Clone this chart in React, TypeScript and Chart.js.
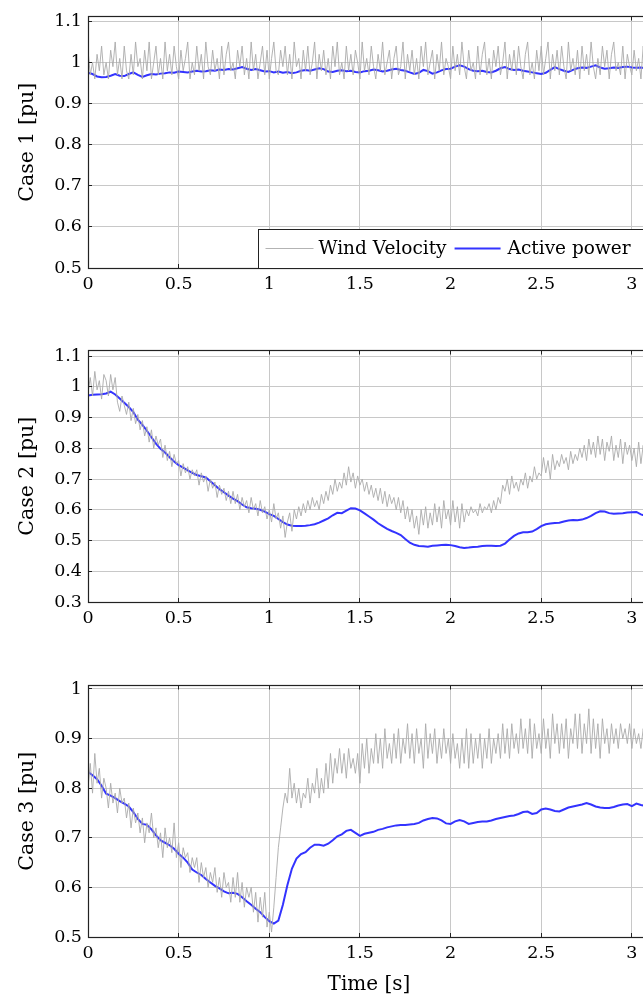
import React, { useEffect, useRef } from "react";
import { Chart, registerables } from "chart.js";

Chart.register(...registerables);

// ---------- data ----------
const WIND_DT = 0.0125; // s between wind samples
const POWER_DT = 0.025; // s between active-power samples

const X_TICKS = [0, 0.5, 1, 1.5, 2, 2.5, 3];
const X_TICK_LABELS = ["0", "0.5", "1", "1.5", "2", "2.5", "3"];

const Y_TICKS_1 = [0.5, 0.6, 0.7, 0.8, 0.9, 1.0, 1.1];
const Y_TICK_LABELS_1 = ["0.5", "0.6", "0.7", "0.8", "0.9", "1", "1.1"];
const Y_TICKS_2 = [0.3, 0.4, 0.5, 0.6, 0.7, 0.8, 0.9, 1.0, 1.1];
const Y_TICK_LABELS_2 = ["0.3", "0.4", "0.5", "0.6", "0.7", "0.8", "0.9", "1", "1.1"];
const Y_TICKS_3 = [0.5, 0.6, 0.7, 0.8, 0.9, 1.0];
const Y_TICK_LABELS_3 = ["0.5", "0.6", "0.7", "0.8", "0.9", "1"];

const Y_TITLES = ["Case 1 [pu]", "Case 2 [pu]", "Case 3 [pu]"];
const X_TITLE = "Time [s]";
const SERIES_NAMES = ["Wind Velocity", "Active power"];

const WIND_1 = [
  1.03, 0.97, 1.0, 0.96, 1.02, 0.98, 1.04, 0.97,
  1.0, 0.96, 1.03, 0.99, 1.05, 0.97, 1.01, 0.96,
  1.04, 0.98, 0.96, 1.02, 0.97, 1.05, 0.99, 1.01,
  0.96, 1.03, 0.98, 1.05, 0.96, 1.0, 1.04, 0.97,
  1.01, 0.96, 1.05, 0.98, 1.02, 0.97, 1.04, 0.99,
  0.96, 1.03, 0.98, 1.01, 1.05, 0.96, 1.0, 0.97,
  1.04, 0.98, 1.02, 0.96, 1.05, 0.99, 0.97, 1.03,
  0.98, 1.01, 0.96, 1.04, 0.97, 1.02, 1.05, 0.98,
  1.0, 0.96, 1.03, 0.99, 1.04, 0.97, 1.01, 0.96,
  1.05, 0.98, 1.02, 0.96, 1.0, 1.04, 0.97, 1.03,
  0.96, 1.01, 1.05, 0.98, 0.97, 1.03, 0.99, 1.04,
  0.97, 1.02, 0.96, 1.05, 0.99, 1.01, 0.96, 1.03,
  0.98, 1.04, 0.97, 1.0, 1.05, 0.96, 1.02, 0.98,
  1.03, 0.97, 1.01, 0.96, 1.04, 0.99, 1.05, 0.97,
  1.0, 0.96, 1.04, 0.98, 1.02, 0.97, 1.03, 1.0,
  0.96, 1.05, 0.98, 1.01, 0.97, 1.04, 0.99, 0.96,
  1.02, 0.98, 1.05, 0.97, 1.0, 1.03, 0.96, 1.01,
  1.04, 0.97, 0.99, 1.05, 0.96, 1.02, 0.98, 1.03,
  0.97, 1.01, 0.96, 1.04, 0.99, 1.05, 0.97, 1.0,
  1.03, 0.96, 1.02, 0.98, 1.05, 0.97, 1.01, 0.99,
  0.96, 1.04, 0.98, 1.02, 0.97, 1.05, 0.99, 0.96,
  1.03, 0.98, 1.0, 0.96, 1.04, 0.97, 1.02, 1.05,
  0.97, 1.01, 0.96, 1.03, 0.99, 1.04, 0.97, 1.0,
  1.05, 0.96, 1.02, 0.98, 1.03, 0.97, 1.04, 0.99,
  0.96, 1.02, 1.05, 0.97, 1.0, 0.96, 1.03, 0.98,
  1.04, 0.97, 1.01, 1.05, 0.96, 1.02, 0.98, 1.03,
  0.97, 1.04, 0.99, 0.96, 1.05, 0.98, 1.01, 0.97,
  1.03, 0.96, 1.04, 0.98, 1.02, 0.97, 1.05, 0.99,
  0.96, 1.01, 0.97, 1.04, 0.99, 1.03, 0.96, 1.02,
  1.05, 0.98, 1.0, 0.97, 1.04, 0.96, 1.02, 0.99,
  0.97, 1.03, 0.98, 1.01, 0.96, 1.04, 0.99, 1.02,
  0.98,
];

const POWER_1 = [
  0.975, 0.972, 0.966, 0.964,
  0.965, 0.968, 0.972, 0.968,
  0.967, 0.972, 0.976, 0.97,
  0.965, 0.969, 0.972, 0.971,
  0.973, 0.974, 0.976, 0.975,
  0.978, 0.977, 0.976, 0.978,
  0.98, 0.978, 0.979, 0.981,
  0.98, 0.983, 0.982, 0.984,
  0.983, 0.986, 0.989, 0.985,
  0.982, 0.984, 0.981, 0.978,
  0.979, 0.976, 0.978, 0.975,
  0.977, 0.974, 0.976, 0.98,
  0.982, 0.98, 0.983, 0.986,
  0.984, 0.978, 0.977, 0.98,
  0.981, 0.979, 0.98, 0.977,
  0.976, 0.979, 0.98, 0.983,
  0.981, 0.978, 0.98, 0.983,
  0.985, 0.982, 0.98, 0.976,
  0.972, 0.975, 0.982, 0.979,
  0.973, 0.976, 0.981, 0.984,
  0.985, 0.99, 0.993, 0.99,
  0.984, 0.98, 0.979, 0.98,
  0.977, 0.976, 0.98, 0.986,
  0.989, 0.984, 0.982, 0.983,
  0.98, 0.978, 0.976, 0.974,
  0.972, 0.975, 0.982, 0.989,
  0.984, 0.98, 0.977, 0.982,
  0.986, 0.988, 0.987, 0.99,
  0.993, 0.988, 0.985, 0.986,
  0.988, 0.987, 0.989, 0.99,
  0.988, 0.987, 0.988, 0.986,
  0.987,
];

const WIND_2 = [
  0.98, 1.03, 0.97, 1.05, 0.99, 1.02, 0.96, 1.04,
  1.02, 0.97, 1.04, 0.99, 1.03, 0.95, 0.92, 0.97,
  0.94, 0.91, 0.95, 0.89, 0.93, 0.88, 0.91, 0.86,
  0.89, 0.84, 0.87, 0.82, 0.86, 0.8, 0.84, 0.81,
  0.83, 0.77, 0.81, 0.76, 0.79, 0.74, 0.78, 0.75,
  0.76, 0.71, 0.75, 0.72, 0.74, 0.7, 0.73, 0.71,
  0.73, 0.68, 0.72, 0.69, 0.71, 0.66, 0.7, 0.67,
  0.69, 0.64, 0.68, 0.65, 0.67, 0.63, 0.66, 0.62,
  0.66, 0.62, 0.65, 0.6, 0.64, 0.61, 0.63, 0.59,
  0.64, 0.6, 0.62, 0.58, 0.63, 0.59, 0.61, 0.57,
  0.6, 0.56, 0.62, 0.57, 0.59, 0.54, 0.58, 0.51,
  0.56, 0.59, 0.53, 0.6, 0.57, 0.61, 0.58, 0.62,
  0.59, 0.63, 0.6, 0.64, 0.61, 0.63, 0.6, 0.65,
  0.62, 0.66, 0.63, 0.68, 0.65, 0.7, 0.66, 0.69,
  0.67, 0.72, 0.68, 0.74, 0.69, 0.72, 0.67, 0.71,
  0.68, 0.7, 0.66, 0.69, 0.65, 0.68, 0.64, 0.67,
  0.63, 0.67, 0.62, 0.66, 0.61, 0.65, 0.62, 0.64,
  0.6, 0.64, 0.59, 0.63, 0.57, 0.61, 0.56, 0.6,
  0.54, 0.58, 0.52, 0.6, 0.55, 0.61, 0.54, 0.59,
  0.55, 0.62, 0.56, 0.61, 0.54, 0.63, 0.57, 0.6,
  0.55, 0.63, 0.56, 0.61, 0.54, 0.62, 0.56, 0.6,
  0.58, 0.61, 0.59, 0.6, 0.58, 0.62, 0.59, 0.61,
  0.6, 0.62, 0.59, 0.63, 0.6, 0.64, 0.62, 0.68,
  0.66, 0.7, 0.65, 0.71, 0.67, 0.69, 0.66, 0.7,
  0.68, 0.72, 0.67, 0.71, 0.69, 0.74, 0.7, 0.72,
  0.71, 0.77, 0.72, 0.76, 0.7, 0.78, 0.73, 0.76,
  0.74, 0.78, 0.75, 0.77, 0.73, 0.79, 0.75, 0.78,
  0.76, 0.8, 0.77, 0.81, 0.76, 0.83, 0.78, 0.82,
  0.77, 0.84, 0.78, 0.83, 0.76, 0.82, 0.79, 0.84,
  0.76, 0.81, 0.77, 0.83, 0.75, 0.82, 0.78, 0.81,
  0.76, 0.8, 0.74, 0.82, 0.75, 0.81, 0.73, 0.79,
  0.77,
];

const POWER_2 = [
  0.972, 0.974, 0.975, 0.976,
  0.978, 0.984, 0.975, 0.962,
  0.948, 0.934, 0.918, 0.893,
  0.876, 0.857, 0.836, 0.815,
  0.798, 0.786, 0.771, 0.757,
  0.745, 0.737, 0.728, 0.72,
  0.713, 0.709, 0.705, 0.693,
  0.68, 0.667, 0.657, 0.646,
  0.636, 0.628, 0.617, 0.608,
  0.605, 0.603, 0.6, 0.594,
  0.586, 0.58, 0.57, 0.56,
  0.552, 0.548, 0.547, 0.547,
  0.548, 0.55, 0.553, 0.558,
  0.565, 0.572, 0.582, 0.59,
  0.589, 0.597, 0.605, 0.604,
  0.598, 0.588, 0.578, 0.568,
  0.556, 0.547, 0.538, 0.531,
  0.525, 0.518, 0.505, 0.493,
  0.486, 0.482, 0.481, 0.48,
  0.483, 0.484, 0.485, 0.486,
  0.485, 0.482, 0.478, 0.476,
  0.477, 0.479, 0.48, 0.482,
  0.483, 0.483, 0.482, 0.483,
  0.49, 0.503, 0.515, 0.523,
  0.527, 0.527, 0.529, 0.537,
  0.547, 0.553, 0.555, 0.557,
  0.558, 0.562, 0.565, 0.567,
  0.566, 0.568, 0.573, 0.58,
  0.589, 0.595, 0.594, 0.589,
  0.587, 0.588, 0.589, 0.591,
  0.592, 0.593, 0.585, 0.58,
  0.582,
];

const WIND_3 = [
  0.8, 0.85, 0.79, 0.87, 0.81, 0.84, 0.78, 0.82,
  0.8, 0.76, 0.81, 0.77, 0.79, 0.75, 0.8, 0.77,
  0.78, 0.74, 0.77, 0.72, 0.76, 0.73, 0.75, 0.71,
  0.74, 0.69, 0.73, 0.71, 0.75, 0.7, 0.72, 0.68,
  0.71, 0.66, 0.72, 0.68, 0.7, 0.67, 0.73, 0.66,
  0.69, 0.64, 0.68, 0.66, 0.67, 0.63, 0.66, 0.64,
  0.66, 0.61, 0.65, 0.62, 0.64, 0.6, 0.63, 0.61,
  0.64, 0.59, 0.62, 0.58, 0.63, 0.6, 0.61, 0.57,
  0.62, 0.58, 0.63, 0.57, 0.61, 0.56, 0.6, 0.58,
  0.6, 0.55, 0.59, 0.53, 0.58, 0.54, 0.59, 0.52,
  0.55, 0.51, 0.56, 0.62, 0.68, 0.72, 0.76, 0.79,
  0.77, 0.84, 0.78, 0.81, 0.77, 0.8, 0.76, 0.79,
  0.78, 0.82, 0.77, 0.81, 0.79, 0.84, 0.78, 0.82,
  0.79, 0.85, 0.8, 0.87, 0.81, 0.86, 0.83, 0.88,
  0.83, 0.87, 0.82, 0.88, 0.84, 0.86, 0.83, 0.87,
  0.81, 0.89, 0.84, 0.9, 0.83, 0.88, 0.85, 0.91,
  0.85, 0.9, 0.84, 0.92, 0.86, 0.89, 0.85, 0.91,
  0.86, 0.92, 0.85, 0.9, 0.87, 0.93, 0.86, 0.91,
  0.85, 0.92, 0.87, 0.9, 0.84, 0.93, 0.86, 0.91,
  0.87, 0.92, 0.85, 0.9, 0.86, 0.92, 0.87, 0.9,
  0.85, 0.91, 0.86, 0.89, 0.84, 0.9, 0.85, 0.92,
  0.84, 0.91, 0.85, 0.9, 0.86, 0.91, 0.84, 0.9,
  0.86, 0.92, 0.85, 0.9, 0.87, 0.91, 0.86, 0.93,
  0.87, 0.92, 0.86, 0.93, 0.88, 0.91, 0.87, 0.94,
  0.88, 0.92, 0.87, 0.94, 0.86, 0.93, 0.88, 0.91,
  0.87, 0.94, 0.88, 0.92, 0.86, 0.95, 0.89, 0.93,
  0.87, 0.93, 0.88, 0.94, 0.86, 0.92, 0.89, 0.95,
  0.88, 0.95, 0.87, 0.93, 0.89, 0.96, 0.87, 0.94,
  0.88, 0.93, 0.86, 0.94, 0.89, 0.92, 0.87, 0.93,
  0.89, 0.92, 0.88, 0.93, 0.9, 0.92, 0.89, 0.93,
  0.88, 0.92, 0.89, 0.91, 0.88, 0.92, 0.89, 0.91,
  0.9,
];

const POWER_3 = [
  0.833, 0.826, 0.818, 0.805,
  0.789, 0.785, 0.78, 0.774,
  0.769, 0.763, 0.752, 0.738,
  0.728, 0.726, 0.717, 0.705,
  0.695, 0.69, 0.685, 0.678,
  0.668, 0.66, 0.65, 0.636,
  0.63, 0.625, 0.617, 0.61,
  0.603, 0.598, 0.592, 0.588,
  0.589, 0.587, 0.58, 0.572,
  0.565, 0.557, 0.55, 0.54,
  0.532, 0.527, 0.533, 0.565,
  0.605, 0.638, 0.658, 0.667,
  0.671, 0.68, 0.686, 0.686,
  0.684, 0.688, 0.695, 0.703,
  0.707, 0.714, 0.716, 0.71,
  0.704, 0.708, 0.71, 0.712,
  0.716, 0.718, 0.721, 0.723,
  0.725, 0.726, 0.726, 0.727,
  0.728, 0.73, 0.735, 0.738,
  0.74, 0.739, 0.735, 0.729,
  0.728, 0.733, 0.736, 0.733,
  0.728, 0.73, 0.732, 0.733,
  0.733, 0.735, 0.738, 0.74,
  0.742, 0.744, 0.745, 0.748,
  0.752, 0.753, 0.748, 0.75,
  0.757, 0.759, 0.757, 0.754,
  0.753, 0.757, 0.761, 0.763,
  0.765, 0.767, 0.77, 0.767,
  0.763, 0.761, 0.76, 0.76,
  0.762, 0.765, 0.767, 0.768,
  0.764, 0.769, 0.766, 0.764,
  0.765,
];

// ---------- styling / layout ----------
const FONT = "'DejaVu Serif', 'Liberation Serif', serif";
const FRAME = "#222222";
const GRID = "#c8c8c8";
const WIND_COLOR = "#aaaaaa";
const POWER_COLOR = "#3333ff";
const CANVAS_W = 650;
const X_MAX = 3.1;

type PanelCfg = {
  top: number;
  height: number;
  xAxisH: number;
  yMin: number;
  yMax: number;
  yTicks: number[];
  yLabels: string[];
  title: string;
  wind: number[];
  power: number[];
  legend: boolean;
  xTitle: boolean;
};

const PANELS: PanelCfg[] = [
  { top: 0, height: 300, xAxisH: 32, yMin: 0.5, yMax: 1.112, yTicks: Y_TICKS_1, yLabels: Y_TICK_LABELS_1, title: Y_TITLES[0], wind: WIND_1, power: POWER_1, legend: true, xTitle: false },
  { top: 334, height: 300, xAxisH: 32, yMin: 0.3, yMax: 1.118, yTicks: Y_TICKS_2, yLabels: Y_TICK_LABELS_2, title: Y_TITLES[1], wind: WIND_2, power: POWER_2, legend: false, xTitle: false },
  { top: 669, height: 331, xAxisH: 63, yMin: 0.5, yMax: 1.007, yTicks: Y_TICKS_3, yLabels: Y_TICK_LABELS_3, title: Y_TITLES[2], wind: WIND_3, power: POWER_3, legend: false, xTitle: true },
];

const framePlugin = {
  id: "frame",
  afterDatasetsDraw(chart: any) {
    const { ctx, chartArea: a, scales } = chart;
    const al = (p: number) => Math.round(p - 0.5) + 0.5;
    ctx.save();
    ctx.strokeStyle = FRAME;
    ctx.lineWidth = 1;
    ctx.beginPath();
    scales.x.ticks.forEach((t: any) => {
      const px = al(scales.x.getPixelForValue(t.value));
      ctx.moveTo(px, a.bottom);
      ctx.lineTo(px, a.bottom - 4);
      ctx.moveTo(px, a.top);
      ctx.lineTo(px, a.top + 4);
    });
    scales.y.ticks.forEach((t: any) => {
      const py = al(scales.y.getPixelForValue(t.value));
      ctx.moveTo(a.left, py);
      ctx.lineTo(a.left + 4, py);
    });
    ctx.stroke();
    ctx.lineWidth = 1.2;
    ctx.strokeRect(al(a.left), al(a.top), Math.round(a.right - a.left), Math.round(a.bottom - a.top));
    ctx.restore();
  },
};

const legendPlugin = {
  id: "boxLegend",
  afterDraw(chart: any) {
    const opts = chart.options.plugins.boxLegend;
    if (!opts || !opts.show) return;
    const { ctx, chartArea: a } = chart;
    const x0 = Math.round(a.left + 170) + 0.5;
    const y0 = Math.round(a.bottom - 39) + 0.5;
    const x1 = Math.round(a.right) + 0.5;
    const y1 = Math.round(a.bottom) + 0.5;
    ctx.save();
    ctx.fillStyle = "#ffffff";
    ctx.fillRect(x0, y0, x1 - x0, y1 - y0);
    ctx.strokeStyle = FRAME;
    ctx.lineWidth = 1;
    ctx.strokeRect(x0, y0, x1 - x0, y1 - y0);
    const cy = y0 + 19;
    ctx.font = `18.5px ${FONT}`;
    ctx.textBaseline = "middle";
    ctx.fillStyle = "#000";
    // entry 1
    ctx.strokeStyle = WIND_COLOR;
    ctx.lineWidth = 0.9;
    ctx.beginPath();
    ctx.moveTo(x0 + 7, cy);
    ctx.lineTo(x0 + 55, cy);
    ctx.stroke();
    const t1x = x0 + 60;
    ctx.fillText(SERIES_NAMES[0], t1x, cy + 1);
    const w1 = ctx.measureText(SERIES_NAMES[0]).width;
    // entry 2
    const l2 = t1x + w1 + 8;
    ctx.strokeStyle = POWER_COLOR;
    ctx.lineWidth = 2;
    ctx.beginPath();
    ctx.moveTo(l2, cy);
    ctx.lineTo(l2 + 46, cy);
    ctx.stroke();
    ctx.fillText(SERIES_NAMES[1], l2 + 53, cy + 1);
    ctx.restore();
  },
};

function Panel({ cfg }: { cfg: PanelCfg }) {
  const ref = useRef<HTMLCanvasElement | null>(null);
  useEffect(() => {
    if (!ref.current) return;
    const windData = cfg.wind.map((v, i) => ({ x: i * WIND_DT, y: v }));
    const powerData = cfg.power.map((v, i) => ({ x: i * POWER_DT, y: v }));
    const chart = new Chart(ref.current, {
      type: "line",
      data: {
        datasets: [
          { label: SERIES_NAMES[0], data: windData, borderColor: WIND_COLOR, borderWidth: 0.9, pointRadius: 0, tension: 0, fill: false },
          { label: SERIES_NAMES[1], data: powerData, borderColor: POWER_COLOR, borderWidth: 2, pointRadius: 0, tension: 0, fill: false },
        ],
      },
      options: {
        responsive: false,
        animation: false,
        devicePixelRatio: 1,
        layout: { padding: { top: 11, left: 0, right: 0, bottom: 0 } },
        plugins: {
          legend: { display: false },
          tooltip: { enabled: false },
          boxLegend: { show: cfg.legend },
        } as any,
        scales: {
          x: {
            type: "linear",
            min: 0,
            max: X_MAX,
            afterBuildTicks: (s: any) => {
              s.ticks = X_TICKS.map((v) => ({ value: v }));
            },
            afterFit: (s: any) => {
              s.height = cfg.xAxisH;
            },
            ticks: {
              autoSkip: false,
              maxRotation: 0,
              padding: 6,
              color: "#000",
              font: { family: FONT, size: 17.5 },
              callback: (v: any) => {
                const i = X_TICKS.findIndex((t) => Math.abs(t - Number(v)) < 1e-6);
                return i >= 0 ? X_TICK_LABELS[i] : "";
              },
            },
            grid: { color: GRID, lineWidth: 1, drawTicks: false },
            border: { display: false },
            title: {
              display: cfg.xTitle,
              text: X_TITLE,
              color: "#000",
              font: { family: FONT, size: 20 },
              padding: { top: 0, bottom: 3 },
            },
          },
          y: {
            type: "linear",
            min: cfg.yMin,
            max: cfg.yMax,
            afterBuildTicks: (s: any) => {
              s.ticks = cfg.yTicks.map((v) => ({ value: v }));
            },
            afterFit: (s: any) => {
              s.width = 88;
            },
            ticks: {
              autoSkip: false,
              padding: 6,
              color: "#000",
              font: { family: FONT, size: 17.5 },
              callback: (v: any) => {
                const i = cfg.yTicks.findIndex((t) => Math.abs(t - Number(v)) < 1e-6);
                return i >= 0 ? cfg.yLabels[i] : "";
              },
            },
            grid: { color: GRID, lineWidth: 1, drawTicks: false },
            border: { display: false },
            title: {
              display: true,
              text: cfg.title,
              color: "#000",
              font: { family: FONT, size: 20.5 },
              padding: { top: 15, bottom: 0 },
            },
          },
        },
      },
      plugins: [framePlugin, legendPlugin],
    } as any);
    return () => chart.destroy();
  }, [cfg]);
  return (
    <canvas
      ref={ref}
      width={CANVAS_W}
      height={cfg.height}
      style={{ position: "absolute", left: 0, top: cfg.top, width: CANVAS_W, height: cfg.height, display: "block" }}
    />
  );
}

export default function App() {
  return (
    <div
      style={{
        position: "absolute",
        left: 0,
        top: 0,
        width: 643,
        height: 1000,
        overflow: "hidden",
        background: "#ffffff",
      }}
    >
      {PANELS.map((p, i) => (
        <Panel key={i} cfg={p} />
      ))}
    </div>
  );
}
